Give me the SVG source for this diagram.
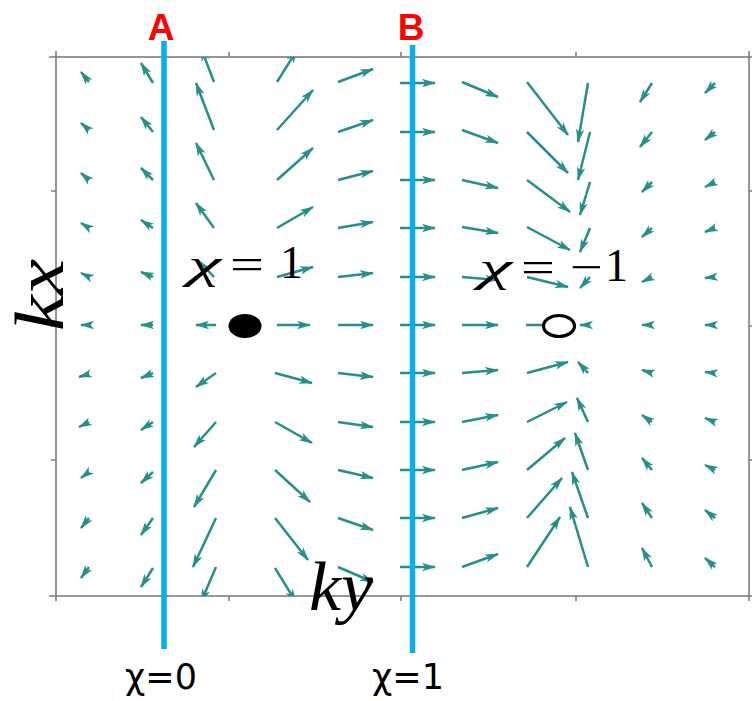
<svg xmlns="http://www.w3.org/2000/svg" width="752" height="701" viewBox="0 0 752 701">
<style>
.ax{stroke:#7d7d7d;stroke-width:1.6;fill:none}
.q{stroke:#268f89;stroke-width:2.5;marker-end:url(#ah)}
.cut{stroke:#0aaee9;stroke-width:5.5}
.lbl{font-family:"Liberation Sans",Arial,sans-serif;font-weight:bold;font-size:37px;fill:#ff0000;text-anchor:middle}
.chi{font-family:"DejaVu Sans",sans-serif;font-size:35px;fill:#000;text-anchor:middle}
.mtext{font-family:"Liberation Serif","Times New Roman",serif;fill:#000}
.k{font-family:"Liberation Serif","Times New Roman",serif;font-style:italic;font-size:70px;fill:#000}
</style>
<defs>
<marker id="ah" markerUnits="userSpaceOnUse" markerWidth="14" markerHeight="10" viewBox="0 0 14 10" refX="13" refY="5" orient="auto">
<path d="M0,0.8 L14,5 L0,9.2 L3.5,5 Z" fill="#268f89"/>
</marker>
<clipPath id="plot"><rect x="56" y="57" width="693" height="539"/></clipPath>
</defs>
<rect width="752" height="701" fill="#fff"/>
<g id="axes">
<rect class="ax" x="56" y="57" width="693" height="539"/>
<path class="ax" d="M56,57 v-6 M229,57 v-5 M401,57 v-5 M576,57 v-5 M749,57 v-6 M56,596 v5 M229,596 v5 M401,596 v5 M576,596 v5 M749,596 v5 M56,57 h-7 M56,191 h-5 M56,326 h-5 M56,460 h-5 M56,596 h-7 M749,57 h3 M749,191 h3 M749,326 h3 M749,460 h3 M749,596 h3"/>
</g>
<g id="field" clip-path="url(#plot)">
<line class="q" x1="89" y1="82" x2="81" y2="72"/>
<line class="q" x1="153" y1="83" x2="141" y2="63"/>
<line class="q" x1="214" y1="82" x2="201" y2="48"/>
<line class="q" x1="277" y1="82" x2="297" y2="50"/>
<line class="q" x1="338" y1="82" x2="373" y2="69"/>
<line class="q" x1="400" y1="83" x2="435" y2="83"/>
<line class="q" x1="462" y1="82" x2="498" y2="97"/>
<line class="q" x1="527" y1="82" x2="568" y2="135"/>
<line class="q" x1="588" y1="83" x2="578" y2="142"/>
<line class="q" x1="652" y1="83" x2="640" y2="102"/>
<line class="q" x1="715" y1="83" x2="705" y2="93"/>

<line class="q" x1="89" y1="130" x2="81" y2="123"/>
<line class="q" x1="153" y1="132" x2="141" y2="117"/>
<line class="q" x1="214" y1="130" x2="196" y2="83"/>
<line class="q" x1="277" y1="130" x2="313" y2="90"/>
<line class="q" x1="338" y1="132" x2="373" y2="120"/>
<line class="q" x1="400" y1="132" x2="435" y2="132"/>
<line class="q" x1="462" y1="130" x2="498" y2="143"/>
<line class="q" x1="527" y1="132" x2="568" y2="173"/>
<line class="q" x1="590" y1="132" x2="578" y2="180"/>
<line class="q" x1="652" y1="132" x2="640" y2="147"/>
<line class="q" x1="715" y1="132" x2="705" y2="140"/>

<line class="q" x1="89" y1="180" x2="81" y2="173"/>
<line class="q" x1="153" y1="180" x2="141" y2="168"/>
<line class="q" x1="214" y1="180" x2="196" y2="143"/>
<line class="q" x1="277" y1="180" x2="313" y2="148"/>
<line class="q" x1="338" y1="180" x2="373" y2="171"/>
<line class="q" x1="400" y1="180" x2="435" y2="180"/>
<line class="q" x1="462" y1="180" x2="498" y2="188"/>
<line class="q" x1="527" y1="180" x2="570" y2="212"/>
<line class="q" x1="590" y1="182" x2="580" y2="215"/>
<line class="q" x1="652" y1="182" x2="642" y2="192"/>
<line class="q" x1="715" y1="182" x2="705" y2="187"/>

<line class="q" x1="89" y1="228" x2="81" y2="223"/>
<line class="q" x1="153" y1="228" x2="141" y2="220"/>
<line class="q" x1="214" y1="228" x2="196" y2="203"/>
<line class="q" x1="277" y1="228" x2="313" y2="207"/>
<line class="q" x1="338" y1="228" x2="373" y2="222"/>
<line class="q" x1="400" y1="228" x2="435" y2="228"/>
<line class="q" x1="462" y1="227" x2="498" y2="233"/>
<line class="q" x1="527" y1="227" x2="570" y2="250"/>
<line class="q" x1="590" y1="228" x2="580" y2="252"/>
<line class="q" x1="652" y1="228" x2="642" y2="237"/>
<line class="q" x1="715" y1="228" x2="705" y2="232"/>

<line class="q" x1="89" y1="277" x2="81" y2="273"/>
<line class="q" x1="153" y1="277" x2="141" y2="272"/>
<line class="q" x1="214" y1="277" x2="200" y2="262"/>
<line class="q" x1="277" y1="277" x2="313" y2="267"/>
<line class="q" x1="338" y1="277" x2="373" y2="273"/>
<line class="q" x1="400" y1="277" x2="435" y2="277"/>
<line class="q" x1="462" y1="277" x2="498" y2="280"/>
<line class="q" x1="527" y1="277" x2="568" y2="287"/>
<line class="q" x1="590" y1="277" x2="580" y2="288"/>
<line class="q" x1="652" y1="277" x2="642" y2="282"/>
<line class="q" x1="715" y1="277" x2="705" y2="278"/>

<line class="q" x1="91" y1="325" x2="81" y2="325"/>
<line class="q" x1="153" y1="325" x2="141" y2="325"/>
<line class="q" x1="216" y1="325" x2="196" y2="325"/>
<line class="q" x1="277" y1="325" x2="310" y2="325"/>
<line class="q" x1="338" y1="325" x2="373" y2="325"/>
<line class="q" x1="400" y1="325" x2="435" y2="325"/>
<line class="q" x1="462" y1="325" x2="498" y2="325"/>
<line class="q" x1="526" y1="325" x2="556" y2="325"/>
<line class="q" x1="590" y1="325" x2="580" y2="325"/>
<line class="q" x1="652" y1="325" x2="642" y2="325"/>
<line class="q" x1="715" y1="325" x2="705" y2="325"/>

<line class="q" x1="89" y1="374" x2="79" y2="377"/>
<line class="q" x1="153" y1="373" x2="141" y2="378"/>
<line class="q" x1="216" y1="373" x2="196" y2="387"/>
<line class="q" x1="275" y1="373" x2="312" y2="383"/>
<line class="q" x1="338" y1="373" x2="373" y2="377"/>
<line class="q" x1="400" y1="373" x2="435" y2="373"/>
<line class="q" x1="462" y1="373" x2="498" y2="370"/>
<line class="q" x1="527" y1="373" x2="568" y2="362"/>
<line class="q" x1="588" y1="373" x2="578" y2="362"/>
<line class="q" x1="652" y1="373" x2="642" y2="370"/>
<line class="q" x1="715" y1="373" x2="705" y2="372"/>

<line class="q" x1="89" y1="422" x2="79" y2="427"/>
<line class="q" x1="153" y1="422" x2="141" y2="430"/>
<line class="q" x1="216" y1="422" x2="194" y2="447"/>
<line class="q" x1="275" y1="422" x2="312" y2="443"/>
<line class="q" x1="338" y1="422" x2="373" y2="427"/>
<line class="q" x1="400" y1="422" x2="435" y2="422"/>
<line class="q" x1="462" y1="422" x2="498" y2="415"/>
<line class="q" x1="527" y1="422" x2="567" y2="402"/>
<line class="q" x1="588" y1="422" x2="577" y2="398"/>
<line class="q" x1="652" y1="422" x2="642" y2="415"/>
<line class="q" x1="715" y1="422" x2="705" y2="418"/>

<line class="q" x1="89" y1="472" x2="81" y2="478"/>
<line class="q" x1="153" y1="472" x2="141" y2="483"/>
<line class="q" x1="216" y1="470" x2="194" y2="507"/>
<line class="q" x1="275" y1="470" x2="310" y2="502"/>
<line class="q" x1="338" y1="470" x2="373" y2="478"/>
<line class="q" x1="400" y1="470" x2="435" y2="470"/>
<line class="q" x1="462" y1="470" x2="498" y2="462"/>
<line class="q" x1="527" y1="470" x2="565" y2="438"/>
<line class="q" x1="588" y1="470" x2="575" y2="433"/>
<line class="q" x1="652" y1="470" x2="642" y2="458"/>
<line class="q" x1="715" y1="470" x2="705" y2="465"/>

<line class="q" x1="89" y1="518" x2="81" y2="528"/>
<line class="q" x1="153" y1="518" x2="141" y2="535"/>
<line class="q" x1="216" y1="518" x2="193" y2="567"/>
<line class="q" x1="275" y1="518" x2="308" y2="560"/>
<line class="q" x1="338" y1="518" x2="373" y2="530"/>
<line class="q" x1="400" y1="518" x2="435" y2="518"/>
<line class="q" x1="462" y1="518" x2="498" y2="508"/>
<line class="q" x1="527" y1="518" x2="562" y2="478"/>
<line class="q" x1="588" y1="518" x2="572" y2="472"/>
<line class="q" x1="652" y1="518" x2="642" y2="503"/>
<line class="q" x1="715" y1="518" x2="705" y2="510"/>

<line class="q" x1="89" y1="567" x2="81" y2="578"/>
<line class="q" x1="153" y1="568" x2="141" y2="587"/>
<line class="q" x1="216" y1="567" x2="201" y2="602"/>
<line class="q" x1="275" y1="568" x2="296" y2="602"/>
<line class="q" x1="338" y1="567" x2="373" y2="582"/>
<line class="q" x1="400" y1="567" x2="435" y2="567"/>
<line class="q" x1="462" y1="567" x2="498" y2="554"/>
<line class="q" x1="527" y1="567" x2="560" y2="517"/>
<line class="q" x1="588" y1="567" x2="570" y2="507"/>
<line class="q" x1="652" y1="567" x2="642" y2="548"/>
<line class="q" x1="715" y1="567" x2="705" y2="558"/>
</g>
<g id="source"><ellipse cx="245" cy="326" rx="16.5" ry="12" fill="#000"/></g>
<g id="sink"><ellipse cx="559" cy="326" rx="15.5" ry="10.5" fill="#fff" stroke="#000" stroke-width="3.2"/></g>
<g id="line-A">
<line class="cut" x1="164" y1="41" x2="164" y2="649"/>
<text class="lbl" x="161" y="40">A</text>
<text class="chi" x="161" y="689">χ=0</text>
</g>
<g id="line-B">
<line class="cut" x1="412.5" y1="45" x2="412.5" y2="653"/>
<text class="lbl" x="411" y="40">B</text>
<text class="chi" x="408" y="689">χ=1</text>
</g>
<g id="chi-labels">
<text class="mtext" font-size="40" font-style="italic" x="188" y="278" textLength="33" lengthAdjust="spacingAndGlyphs">χ</text>
<text class="mtext" font-size="44" x="230" y="279" textLength="34" lengthAdjust="spacingAndGlyphs">=</text>
<text class="mtext" font-size="46" x="280" y="278">1</text>
<text class="mtext" font-size="40" font-style="italic" x="479" y="281" textLength="33" lengthAdjust="spacingAndGlyphs">χ</text>
<text class="mtext" font-size="44" x="521" y="282" textLength="34" lengthAdjust="spacingAndGlyphs">=</text>
<text class="mtext" font-size="44" x="570" y="282" textLength="33" lengthAdjust="spacingAndGlyphs">−</text>
<text class="mtext" font-size="46" x="605" y="281">1</text>
</g>
<g id="axis-labels">
<text class="k" transform="translate(63,331) rotate(-90)" textLength="72" lengthAdjust="spacingAndGlyphs">kx</text>
<text class="k" x="309" y="610" textLength="64" lengthAdjust="spacingAndGlyphs">ky</text>
</g>
</svg>
